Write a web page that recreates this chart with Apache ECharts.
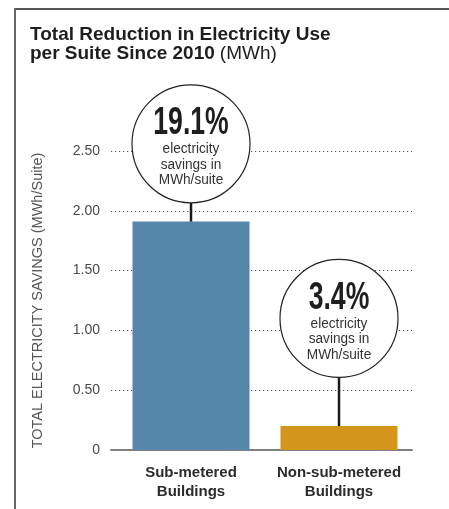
<!DOCTYPE html>
<html>
<head>
<meta charset="utf-8">
<script src="https://cdn.jsdelivr.net/npm/echarts@6/dist/echarts.min.js"></script>
<style>
  html, body { margin: 0; padding: 0; background: #fff; }
  #chart { width: 449px; height: 509px; }
</style>
</head>
<body>
<div id="chart"></div>
<script>
// Building groups and their total electricity savings per suite (MWh)
const categories = ['Sub-metered\nBuildings', 'Non-sub-metered\nBuildings'];
const savings = [1.91, 0.20];
const barColors = ['#5686aa', '#d3951b'];

// Percentage callouts and the axis level where each bubble sits
const percentLabels = ['19.1%', '3.4%'];
const calloutLevels = [2.56, 1.10];
const calloutNote = 'electricity\nsavings in\nMWh/suite';

// Value axis ticks
const yTicks = [0, 0.5, 1.0, 1.5, 2.0, 2.5];

const FONT = "'Liberation Sans', Arial, sans-serif";
const BUBBLE_R = 59;

const chart = echarts.init(document.getElementById('chart'), null, { renderer: 'canvas' });

const option = {
  animation: false,
  backgroundColor: '#fff',
  title: {
    left: 30,
    top: 25,
    padding: 0,
    text: '{b|Total Reduction in Electricity Use}\n{b|per Suite Since 2010} {n|(MWh)}',
    textStyle: {
      rich: {
        b: { fontFamily: FONT, fontWeight: 'bold', fontSize: 19, lineHeight: 19, color: '#1e1e1e' },
        n: { fontFamily: FONT, fontWeight: 'normal', fontSize: 19, lineHeight: 19, color: '#1e1e1e' }
      }
    }
  },
  graphic: [
    { type: 'line', shape: { x1: 15, y1: 9, x2: 449, y2: 9 }, style: { stroke: '#555', lineWidth: 2 } },
    { type: 'line', shape: { x1: 15, y1: 8, x2: 15, y2: 509 }, style: { stroke: '#666', lineWidth: 2 } }
  ],
  grid: [
    { left: 111, right: 37, top: 151, bottom: 59 },
    { left: 117, right: 36, top: 151, bottom: 59 }
  ],
  xAxis: [
    {
      gridIndex: 0,
      type: 'category',
      data: categories,
      axisLine: { show: true, lineStyle: { color: '#808080', width: 2 } },
      axisTick: { show: false },
      axisLabel: { show: false }
    },
    {
      gridIndex: 1,
      type: 'category',
      data: categories,
      axisLine: { show: false },
      axisTick: { show: false },
      axisLabel: {
        interval: 0,
        margin: 13,
        fontFamily: FONT,
        fontWeight: 'bold',
        fontSize: 15,
        lineHeight: 19,
        color: '#2b2b2b',
        align: 'center'
      }
    }
  ],
  yAxis: [
    {
      gridIndex: 0,
      type: 'value',
      min: yTicks[0],
      max: yTicks[yTicks.length - 1],
      interval: yTicks[1] - yTicks[0],
      name: 'TOTAL ELECTRICITY SAVINGS (MWh/Suite)',
      nameLocation: 'middle',
      nameGap: 66,
      nameTextStyle: { fontFamily: FONT, fontSize: 14.5, color: '#555' },
      axisLine: { show: false },
      axisTick: { show: false },
      axisLabel: {
        margin: 11,
        fontFamily: FONT,
        fontSize: 14,
        color: '#4a4a4a',
        formatter: v => (v === 0 ? '0' : v.toFixed(2))
      },
      splitLine: {
        show: true,
        lineStyle: { color: '#555', width: 1.2, type: [1.2, 2.8] }
      }
    },
    {
      gridIndex: 1,
      type: 'value',
      min: yTicks[0],
      max: yTicks[yTicks.length - 1],
      interval: yTicks[1] - yTicks[0],
      show: false,
      splitLine: { show: false }
    }
  ],
  series: [
    {
      type: 'bar',
      xAxisIndex: 1,
      yAxisIndex: 1,
      barWidth: 117,
      z: 2,
      data: savings.map((v, i) => ({ value: v, itemStyle: { color: barColors[i] } }))
    },
    {
      type: 'custom',
      xAxisIndex: 1,
      yAxisIndex: 1,
      z: 5,
      clip: false,
      data: savings.map((v, i) => [i, v, calloutLevels[i]]),
      renderItem: function (params, api) {
        const idx = params.dataIndex;
        const barTop = api.coord([api.value(0), api.value(1)]);
        const center = api.coord([api.value(0), api.value(2)]);
        const cx = barTop[0];
        const cy = center[1];
        return {
          type: 'group',
          children: [
            {
              type: 'line',
              shape: { x1: cx, y1: barTop[1], x2: cx, y2: cy + BUBBLE_R },
              style: { stroke: '#1a1a1a', lineWidth: 2.5 }
            },
            {
              type: 'circle',
              shape: { cx: cx, cy: cy, r: BUBBLE_R },
              style: { fill: '#fff', stroke: '#222', lineWidth: 1.2 }
            },
            {
              type: 'text',
              x: cx,
              y: cy - 20,
              scaleX: 0.7,
              style: {
                text: percentLabels[idx],
                fontFamily: FONT,
                fontWeight: 'bold',
                fontSize: 38,
                fill: '#1e1e1e',
                align: 'center',
                verticalAlign: 'middle'
              }
            },
            {
              type: 'text',
              x: cx,
              y: cy + 20.5,
              scaleX: 0.88,
              style: {
                text: calloutNote,
                fontFamily: FONT,
                fontSize: 15.5,
                lineHeight: 15.5,
                fill: '#333',
                align: 'center',
                verticalAlign: 'middle'
              }
            }
          ]
        };
      }
    }
  ]
};

chart.setOption(option);
</script>
</body>
</html>
